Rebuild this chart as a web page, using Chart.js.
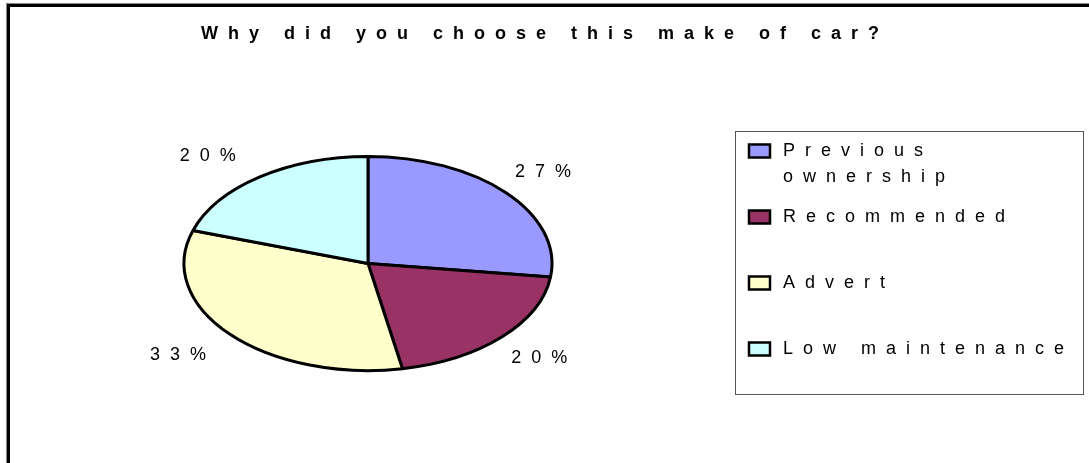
<!DOCTYPE html>
<html>
<head>
<meta charset="utf-8">
<script src="https://cdn.jsdelivr.net/npm/chart.js@4.4.1/dist/chart.umd.min.js"></script>
<style>
  html, body { margin: 0; padding: 0; background: #fff; }
  #wrap { width: 1089px; height: 463px; }
</style>
</head>
<body>
<div id="wrap"><canvas id="pie" width="1089" height="463"></canvas></div>
<script>
// Survey: reasons for choosing the make of car (percent of answers)
const chartTitle = 'Why did you choose this make of car?';
const reasons = ['Previous ownership', 'Recommended', 'Advert', 'Low maintenance'];
const shares = [27, 20, 33, 20];
const colours = ['#9999FF', '#993366', '#FFFFCC', '#CCFFFF'];

const FONT = '"Liberation Sans", Arial, sans-serif';
const SPACING = 10;     // wide character spacing used on all text
const FLAT = 0.582;     // vertical squash, turns the pie into an ellipse

function setText(ctx, px, weight) {
  ctx.font = (weight || 'normal') + ' ' + px + 'px ' + FONT;
  ctx.letterSpacing = SPACING + 'px';
  ctx.fillStyle = '#000';
  ctx.textBaseline = 'middle';
  ctx.textAlign = 'left';
}
// visible width, leaving out the spacing after the last glyph
function inkWidth(ctx, s) {
  return ctx.measureText(s).width - SPACING;
}

// white page, heavy frame on top/left, and the title
const frame = {
  id: 'frame',
  beforeDraw(chart) {
    const ctx = chart.ctx;
    const w = chart.width, h = chart.height;
    ctx.save();
    ctx.fillStyle = '#fff';
    ctx.fillRect(0, 0, w, h);
    ctx.fillStyle = '#888';
    ctx.fillRect(6, 3, w - 6, 1);
    ctx.fillRect(6, 3, 1, h - 3);
    ctx.fillStyle = '#000';
    ctx.fillRect(7, 4, w - 7, 3);
    ctx.fillRect(7, 4, 3, h - 4);

    setText(ctx, 18, 'bold');
    const tw = inkWidth(ctx, chartTitle);
    ctx.fillText(chartTitle, 540 - tw / 2, 34);
    ctx.restore();
  }
};

// squash the arcs vertically; outlines are stroked unsquashed so they stay even
const squash = {
  id: 'squash',
  beforeDatasetsDraw(chart) {
    const ctx = chart.ctx;
    const arc = chart.getDatasetMeta(0).data[0];
    const plain = ctx.getTransform();
    ctx.save();
    ctx.translate(arc.x, arc.y);
    ctx.scale(1, FLAT);
    ctx.translate(-arc.x, -arc.y);
    ctx.stroke = function () {
      const t = this.getTransform();
      this.setTransform(plain);
      CanvasRenderingContext2D.prototype.stroke.call(this);
      this.setTransform(t);
    };
  },
  afterDatasetsDraw(chart) {
    delete chart.ctx.stroke;
    chart.ctx.restore();
  }
};

// percent labels just outside the rim, pushed away from the centre
const sliceLabels = {
  id: 'sliceLabels',
  afterDraw(chart) {
    const ctx = chart.ctx;
    const meta = chart.getDatasetMeta(0);
    const values = chart.data.datasets[0].data;
    ctx.save();
    setText(ctx, 18);
    meta.data.forEach((arc, i) => {
      const mid = (arc.startAngle + arc.endAngle) / 2;
      const ex = arc.x + Math.cos(mid) * arc.outerRadius;
      const ey = arc.y + Math.sin(mid) * arc.outerRadius * FLAT;
      const text = values[i] + '%';
      const w = inkWidth(ctx, text);
      const y = ey + (Math.sin(mid) < 0 ? -21 : 21);
      const x = Math.cos(mid) >= 0 ? ex + 9 : ex - 24 - w;
      ctx.fillText(text, x, y);
    });
    ctx.restore();
  }
};

// boxed legend on the right, long names wrap onto a second line
const boxLegend = {
  id: 'boxLegend',
  afterDraw(chart) {
    const ctx = chart.ctx;
    const box = { x: 735.5, y: 131.5, w: 348, h: 263 };
    const textX = 783, firstY = 151, pitch = 66, lineH = 26, maxW = 290;
    ctx.save();
    ctx.strokeStyle = '#555';
    ctx.lineWidth = 1;
    ctx.strokeRect(box.x, box.y, box.w, box.h);

    setText(ctx, 18);
    chart.data.labels.forEach((label, i) => {
      const y = firstY + i * pitch;
      const colour = chart.data.datasets[0].backgroundColor[i];
      ctx.fillStyle = colour;
      ctx.fillRect(749, y - 6.5, 21, 13);
      ctx.strokeStyle = '#000';
      ctx.lineWidth = 2.5;
      ctx.strokeRect(749, y - 6.5, 21, 13);

      // simple word wrap
      const lines = [];
      let line = '';
      label.split(' ').forEach(word => {
        const tryLine = line ? line + ' ' + word : word;
        if (line && inkWidth(ctx, tryLine) > maxW) {
          lines.push(line);
          line = word;
        } else {
          line = tryLine;
        }
      });
      lines.push(line);

      ctx.fillStyle = '#000';
      lines.forEach((ln, k) => ctx.fillText(ln, textX, y + k * lineH));
    });
    ctx.restore();
  }
};

new Chart(document.getElementById('pie'), {
  type: 'pie',
  data: {
    labels: reasons,
    datasets: [{
      data: shares,
      backgroundColor: colours,
      borderColor: '#000',
      borderWidth: 3,
      radius: 184
    }]
  },
  options: {
    responsive: false,
    animation: false,
    events: [],
    layout: { padding: { left: 0, right: 353, top: 64, bottom: 0 } },
    plugins: {
      legend: { display: false },
      title: { display: false },
      tooltip: { enabled: false }
    }
  },
  plugins: [frame, squash, sliceLabels, boxLegend]
});
</script>
</body>
</html>
